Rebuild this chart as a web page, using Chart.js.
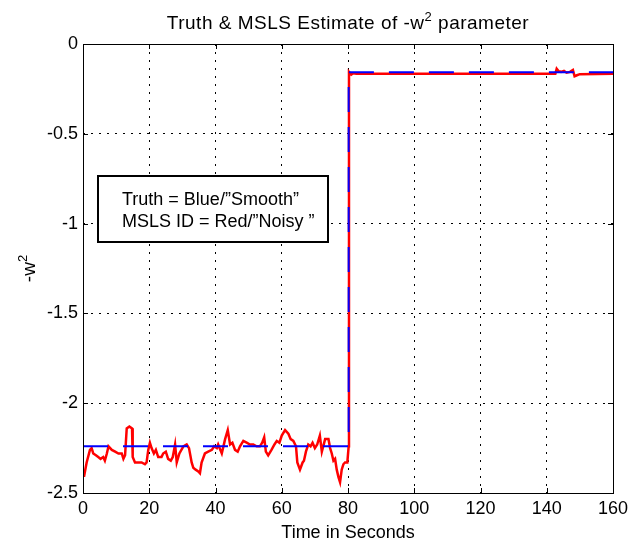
<!DOCTYPE html>
<html>
<head>
<meta charset="utf-8">
<script src="https://cdn.jsdelivr.net/npm/chart.js@4.4.1/dist/chart.umd.min.js"></script>
<style>
  html, body { margin: 0; padding: 0; background: #fff; }
  #wrap { width: 642px; height: 544px; }
</style>
</head>
<body>
<div id="wrap"><canvas id="chart" width="642" height="544"></canvas></div>
<script>
const xTicks = [0, 20, 40, 60, 80, 100, 120, 140, 160];
const yTicks = [0, -0.5, -1, -1.5, -2, -2.5];

// truth ("smooth") step
const truthT = [0, 80.2, 80.2, 160];
const truthV = [-2.24, -2.24, -0.157, -0.157];

// MSLS estimate ("noisy")
const mslsT = [0, 0.3, 1.1, 2.1, 2.6, 3.1, 3.9, 4.6, 5.3, 6.1, 6.6, 7.2, 7.7, 8.7, 9.7, 10.7, 11.7, 12.2, 12.7, 13.2,
  14.0, 14.8, 15.0, 15.7, 16.7, 17.7, 18.7, 19.2, 19.7, 20.2, 20.7, 21.4, 22.0, 22.7, 23.7, 24.2, 25.0, 25.7, 26.5, 27.1,
  27.8, 28.3, 29.1, 30.3, 31.3, 32.0, 32.8, 33.3, 34.0, 34.8, 35.3, 35.8, 36.8, 37.8, 38.9, 39.6, 40.4, 40.8, 41.9, 42.9,
  43.7, 44.4, 45.1, 45.9, 46.7, 47.4, 48.4, 49.4, 50.4, 51.4, 52.4, 53.4, 54.1, 54.7, 55.2, 55.9, 56.9, 57.8, 58.5, 59.3,
  60.0, 61.0, 62.0, 62.7, 63.5, 64.3, 64.7, 65.5, 66.3, 66.7, 67.3, 68.0, 68.7, 69.3, 70.0, 70.7, 71.5, 72.1, 73.1, 74.1,
  74.6, 75.1, 75.6, 76.1, 76.6, 77.1, 77.6, 78.1, 78.6, 79.1, 79.8, 80.2, 80.3, 81.0, 81.6, 82.5, 142.6, 143.0, 143.6, 144.3,
  145.2, 146.0, 147.0, 147.9, 148.4, 149.1, 150.0, 160];
const mslsV = [-2.37, -2.41, -2.33, -2.26, -2.25, -2.28, -2.29, -2.30, -2.31, -2.30, -2.32, -2.28, -2.24, -2.26, -2.27, -2.28, -2.28, -2.31, -2.29, -2.14,
  -2.13, -2.14, -2.30, -2.33, -2.33, -2.33, -2.34, -2.33, -2.26, -2.22, -2.25, -2.28, -2.26, -2.30, -2.30, -2.28, -2.27, -2.31, -2.32, -2.30,
  -2.23, -2.33, -2.28, -2.24, -2.23, -2.25, -2.33, -2.36, -2.37, -2.38, -2.39, -2.33, -2.28, -2.27, -2.26, -2.24, -2.25, -2.23, -2.28, -2.20,
  -2.15, -2.23, -2.22, -2.26, -2.27, -2.24, -2.21, -2.22, -2.23, -2.23, -2.24, -2.24, -2.22, -2.19, -2.27, -2.29, -2.26, -2.23, -2.21, -2.22,
  -2.18, -2.15, -2.17, -2.20, -2.21, -2.24, -2.33, -2.37, -2.33, -2.32, -2.27, -2.23, -2.24, -2.22, -2.25, -2.23, -2.18, -2.27, -2.20, -2.20,
  -2.25, -2.28, -2.32, -2.31, -2.37, -2.41, -2.44, -2.37, -2.34, -2.33, -2.33, -2.24, -0.155, -0.17, -0.163, -0.166, -0.166, -0.138, -0.152, -0.155,
  -0.15, -0.16, -0.155, -0.145, -0.18, -0.174, -0.168, -0.166];

const legendLines = ['Truth = Blue/\u201dSmooth\u201d', 'MSLS ID = Red/\u201dNoisy \u201d'];

const FONT = '"Liberation Sans", Arial, Helvetica, sans-serif';

const pts = (xs, ys) => xs.map((x, i) => ({ x, y: ys[i] }));

// frame, inward ticks, title, y label and text box (MATLAB look)
const matlabDecor = {
  id: 'matlabDecor',
  afterDatasetsDraw(chart) {
    const { ctx, chartArea: a, scales: { x, y } } = chart;
    ctx.save();
    ctx.strokeStyle = '#000';
    ctx.lineWidth = 1;
    ctx.setLineDash([]);
    ctx.strokeRect(Math.round(a.left) + 0.5, Math.round(a.top) + 0.5, Math.round(a.right - a.left), Math.round(a.bottom - a.top));

    ctx.beginPath();
    xTicks.forEach(v => {
      const px = Math.round(x.getPixelForValue(v)) + 0.5;
      ctx.moveTo(px, a.bottom); ctx.lineTo(px, a.bottom - 5);
      ctx.moveTo(px, a.top); ctx.lineTo(px, a.top + 5);
    });
    yTicks.forEach(v => {
      const py = Math.round(y.getPixelForValue(v)) + 0.5;
      ctx.moveTo(a.left, py); ctx.lineTo(a.left + 5, py);
      ctx.moveTo(a.right, py); ctx.lineTo(a.right - 5, py);
    });
    ctx.stroke();

    // text box
    const bx = 98, by = 176, bw = 230, bh = 66;
    ctx.fillStyle = '#fff';
    ctx.fillRect(bx, by, bw, bh);
    ctx.lineWidth = 2;
    ctx.strokeRect(bx, by, bw, bh);
    ctx.fillStyle = '#000';
    ctx.font = '18px ' + FONT;
    ctx.textAlign = 'left';
    ctx.textBaseline = 'alphabetic';
    ctx.fillText(legendLines[0], 122, 205);
    ctx.fillText(legendLines[1], 122, 227);

    // title with superscript
    const cx = (a.left + a.right) / 2;
    const p1 = 'Truth & MSLS Estimate of -w', sup = '2', p2 = ' parameter';
    ctx.letterSpacing = '0.5px';
    ctx.font = '19px ' + FONT;
    const w1 = ctx.measureText(p1).width, w3 = ctx.measureText(p2).width;
    ctx.font = '13px ' + FONT;
    const w2 = ctx.measureText(sup).width;
    let tx = cx - (w1 + w2 + w3) / 2;
    ctx.font = '19px ' + FONT;
    ctx.fillText(p1, tx, 29);
    ctx.font = '13px ' + FONT;
    ctx.fillText(sup, tx + w1, 21);
    ctx.font = '19px ' + FONT;
    ctx.fillText(p2, tx + w1 + w2, 29);
    ctx.letterSpacing = '0px';

    // y axis label, rotated
    ctx.translate(35, (a.top + a.bottom) / 2);
    ctx.rotate(-Math.PI / 2);
    ctx.font = '19px ' + FONT;
    const l1 = ctx.measureText('-w').width;
    ctx.font = '13px ' + FONT;
    const l2 = ctx.measureText('2').width;
    const lx = -(l1 + l2) / 2;
    ctx.font = '19px ' + FONT;
    ctx.fillText('-w', lx, 0);
    ctx.font = '13px ' + FONT;
    ctx.fillText('2', lx + l1, -8);
    ctx.restore();
  }
};

new Chart(document.getElementById('chart'), {
  type: 'line',
  data: {
    datasets: [
      { label: 'Truth', data: pts(truthT, truthV), borderColor: '#0000ff', borderWidth: 2, borderDash: [25, 15], pointRadius: 0, tension: 0, fill: false },
      { label: 'MSLS ID', data: pts(mslsT, mslsV), borderColor: '#ff0000', borderWidth: 2.5, pointRadius: 0, tension: 0, fill: false }
    ]
  },
  options: {
    responsive: false,
    animation: false,
    layout: { padding: { left: 0, right: 29, top: 44, bottom: 0 } },
    plugins: { legend: { display: false }, title: { display: false }, tooltip: { enabled: false } },
    scales: {
      x: {
        type: 'linear', min: 0, max: 160,
        afterBuildTicks: s => { s.ticks = xTicks.map(v => ({ value: v })); },
        afterFit: s => { s.height = 51; },
        grid: { color: '#000', lineWidth: 1, drawTicks: false },
        border: { display: false, dash: [2, 6] },
        ticks: { color: '#000', font: { family: FONT, size: 18 }, padding: 5, maxRotation: 0, callback: v => String(v) },
        title: { display: true, text: 'Time in Seconds', color: '#000', font: { family: FONT, size: 18 }, padding: { top: 0, bottom: 0 } }
      },
      y: {
        type: 'linear', min: -2.5, max: 0,
        afterBuildTicks: s => { s.ticks = yTicks.map(v => ({ value: v })); },
        afterFit: s => { s.width = 83; },
        grid: { color: '#000', lineWidth: 1, drawTicks: false },
        border: { display: false, dash: [2, 6] },
        ticks: { color: '#000', font: { family: FONT, size: 18 }, padding: 5, callback: v => String(v) }
      }
    }
  },
  plugins: [matlabDecor]
});
</script>
</body>
</html>
